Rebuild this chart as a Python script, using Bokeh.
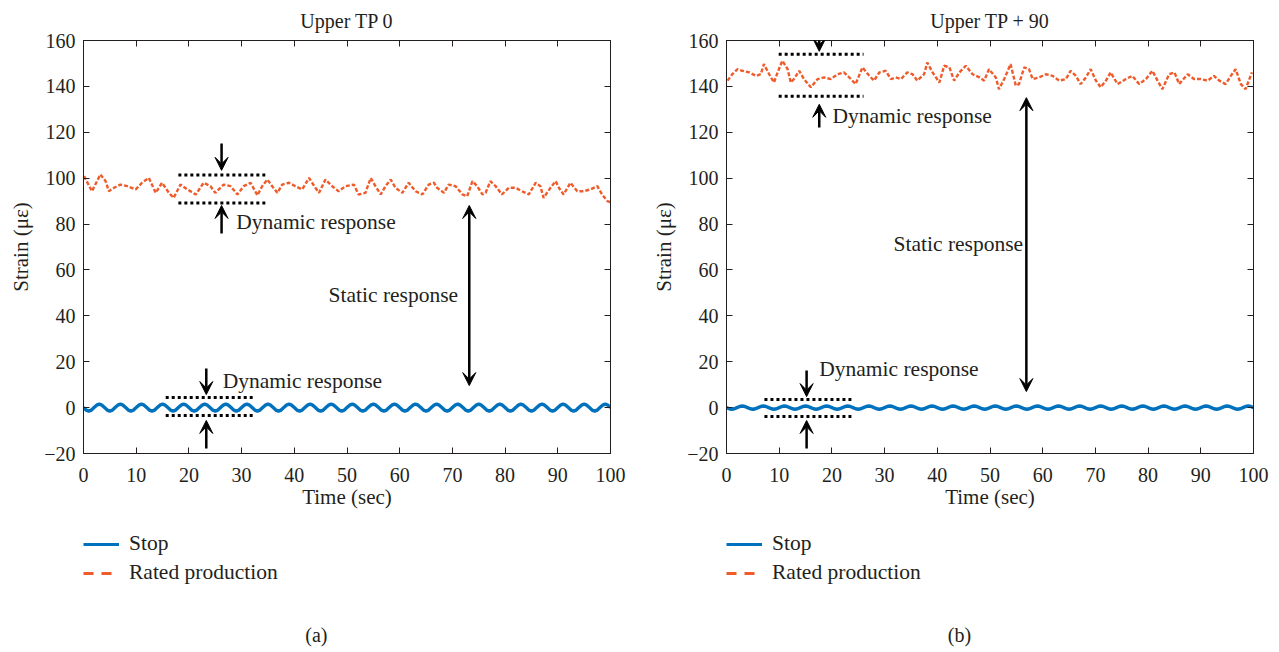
from bokeh.plotting import figure
from bokeh.models import (Arrow, VeeHead, Label, Legend, LegendItem, LinearAxis,
                          Range1d, FixedTicker, CustomJSTickFormatter)
from bokeh.layouts import row, column
from bokeh.embed import file_html
from bokeh.resources import INLINE

FONT = "Liberation Serif"
INK = "#231F20"
BLUE = "#0072BD"
RED = "#EF5B2A"

x_ticks = [0, 10, 20, 30, 40, 50, 60, 70, 80, 90, 100]
y_ticks = [-20, 0, 20, 40, 60, 80, 100, 120, 140, 160]
y_tick_labels = {-20: "\u221220"}

titles = ["Upper TP 0", "Upper TP + 90"]
captions = ["(a)", "(b)"]
series_names = ["Stop", "Rated production"]

# --- Panel (a): Upper TP 0 ---
rated_t_a = [0.1, 1.6, 3.2, 4.2, 4.8, 5.8, 7.0, 8.3, 9.9, 11.1,
             12.4, 13.7, 14.9, 16.2, 17.1, 18.4, 19.7, 21.3, 22.8, 24.1,
             25.0, 26.6, 27.9, 29.2, 30.4, 31.7, 33.0, 33.9, 34.9, 35.8,
             36.8, 37.7, 39.0, 40.2, 41.5, 42.8, 44.0, 44.7, 45.9, 47.2,
             48.4, 49.7, 51.3, 52.2, 53.5, 54.5, 55.4, 56.4, 57.3, 58.3,
             59.2, 60.5, 61.7, 63.0, 64.3, 65.5, 66.5, 67.1, 68.4, 69.3,
             70.6, 71.9, 72.8, 73.8, 74.7, 75.7, 76.3, 77.2, 78.2, 79.4,
             80.7, 82.0, 83.2, 84.5, 85.8, 86.7, 87.3, 88.6, 89.6, 90.2,
             91.1, 92.4, 93.7, 94.9, 96.2, 97.5, 98.4, 99.4, 100.0]
rated_v_a = [100.9, 94.3, 101.6, 98.7, 94.3, 95.8, 97.2, 96.5, 95.1, 98.0,
             100.1, 93.6, 98.0, 93.6, 91.4, 97.2, 95.1, 92.9, 98.0, 96.5,
             93.6, 97.2, 96.5, 92.9, 96.5, 98.0, 92.5, 96.5, 99.4, 96.5,
             93.6, 97.2, 98.0, 96.5, 95.1, 100.1, 95.8, 93.6, 99.4, 96.5,
             94.3, 96.5, 97.2, 92.9, 93.6, 100.1, 96.5, 92.9, 96.5, 99.4,
             95.8, 93.6, 98.0, 94.3, 92.9, 97.2, 98.0, 95.8, 93.6, 97.2,
             96.5, 92.9, 92.1, 98.7, 96.5, 92.9, 93.6, 98.7, 96.5, 92.9,
             95.8, 95.8, 94.3, 92.9, 98.0, 96.5, 91.4, 95.8, 98.7, 95.8,
             92.9, 98.0, 94.3, 94.3, 95.1, 96.5, 92.9, 90.0, 89.5]

# sampling grid of the "Stop" records (every 0.5 s)
stop_t = [i / 2 for i in range(201)]
stop_v_a = [
    0, -1.06, -1.5, -1.06, 0, 1.06, 1.5, 1.06,
    0, -1.06, -1.5, -1.06, 0, 1.06, 1.5, 1.06,
    0, -1.06, -1.5, -1.06, 0, 1.06, 1.5, 1.06,
    0, -1.06, -1.5, -1.06, 0, 1.06, 1.5, 1.06,
    0, -1.06, -1.5, -1.06, 0, 1.06, 1.5, 1.06,
    0, -1.06, -1.5, -1.06, 0, 1.06, 1.5, 1.06,
    0, -1.06, -1.5, -1.06, 0, 1.06, 1.5, 1.06,
    0, -1.06, -1.5, -1.06, 0, 1.06, 1.5, 1.06,
    0, -1.06, -1.5, -1.06, 0, 1.06, 1.5, 1.06,
    0, -1.06, -1.5, -1.06, 0, 1.06, 1.5, 1.06,
    0, -1.06, -1.5, -1.06, 0, 1.06, 1.5, 1.06,
    0, -1.06, -1.5, -1.06, 0, 1.06, 1.5, 1.06,
    0, -1.06, -1.5, -1.06, 0, 1.06, 1.5, 1.06,
    0, -1.06, -1.5, -1.06, 0, 1.06, 1.5, 1.06,
    0, -1.06, -1.5, -1.06, 0, 1.06, 1.5, 1.06,
    0, -1.06, -1.5, -1.06, 0, 1.06, 1.5, 1.06,
    0, -1.06, -1.5, -1.06, 0, 1.06, 1.5, 1.06,
    0, -1.06, -1.5, -1.06, 0, 1.06, 1.5, 1.06,
    0, -1.06, -1.5, -1.06, 0, 1.06, 1.5, 1.06,
    0, -1.06, -1.5, -1.06, 0, 1.06, 1.5, 1.06,
    0, -1.06, -1.5, -1.06, 0, 1.06, 1.5, 1.06,
    0, -1.06, -1.5, -1.06, 0, 1.06, 1.5, 1.06,
    0, -1.06, -1.5, -1.06, 0, 1.06, 1.5, 1.06,
    0, -1.06, -1.5, -1.06, 0, 1.06, 1.5, 1.06,
    0, -1.06, -1.5, -1.06, 0, 1.06, 1.5, 1.06,
    0]

# --- Panel (b): Upper TP + 90 ---
rated_t_b = [0.2, 1.1, 2.1, 3.0, 4.3, 5.6, 6.5, 7.1, 8.1, 9.0,
             9.7, 10.6, 11.6, 12.2, 12.8, 13.8, 14.7, 16.0, 17.3, 18.5,
             19.8, 21.1, 22.3, 23.6, 24.5, 25.8, 27.1, 28.0, 29.0, 30.2,
             31.2, 32.1, 33.1, 34.3, 35.3, 36.2, 37.5, 38.1, 39.1, 40.4,
             41.3, 42.3, 43.2, 44.2, 45.4, 46.7, 48.0, 48.9, 49.8, 51.1,
             51.7, 52.7, 53.9, 54.9, 55.5, 56.5, 57.4, 58.1, 59.3, 60.6,
             61.9, 63.1, 64.4, 65.3, 66.3, 67.2, 68.2, 69.1, 70.1, 71.0,
             72.0, 72.9, 74.2, 75.8, 77.0, 78.3, 79.6, 80.8, 81.8, 82.7,
             84.0, 85.0, 85.9, 87.5, 88.7, 90.0, 91.3, 92.5, 93.5, 94.7,
             95.7, 96.6, 97.6, 98.5, 99.7]
rated_v_b = [142.5, 145.3, 147.5, 146.8, 146.1, 144.6, 145.3, 149.7, 145.3, 141.7,
             146.1, 151.2, 147.5, 141.7, 143.2, 146.8, 143.2, 139.6, 143.2, 143.9,
             143.2, 145.3, 146.1, 143.2, 141.0, 148.3, 144.6, 142.5, 146.1, 146.8,
             143.2, 143.9, 143.2, 146.1, 145.3, 142.5, 145.3, 150.4, 146.1, 141.7,
             149.0, 148.3, 142.5, 146.1, 149.0, 145.3, 143.9, 142.5, 147.5, 143.9,
             138.8, 143.2, 149.7, 140.3, 141.0, 148.3, 147.5, 143.2, 143.9, 145.3,
             144.6, 142.5, 143.2, 146.8, 144.6, 141.0, 143.9, 147.5, 142.5, 139.6,
             142.5, 146.1, 141.0, 143.2, 144.6, 141.0, 143.2, 146.8, 142.5, 138.8,
             145.3, 146.1, 141.0, 145.3, 143.2, 143.2, 142.5, 144.6, 142.5, 141.0,
             144.6, 147.5, 141.0, 138.8, 146.1]

stop_v_b = [
    0, -0.5, -0.7, -0.5, 0, 0.5, 0.7, 0.5,
    0, -0.5, -0.7, -0.5, 0, 0.5, 0.7, 0.5,
    0, -0.5, -0.7, -0.5, 0, 0.5, 0.7, 0.5,
    0, -0.5, -0.7, -0.5, 0, 0.5, 0.7, 0.5,
    0, -0.5, -0.7, -0.5, 0, 0.5, 0.7, 0.5,
    0, -0.5, -0.7, -0.5, 0, 0.5, 0.7, 0.5,
    0, -0.5, -0.7, -0.5, 0, 0.5, 0.7, 0.5,
    0, -0.5, -0.7, -0.5, 0, 0.5, 0.7, 0.5,
    0, -0.5, -0.7, -0.5, 0, 0.5, 0.7, 0.5,
    0, -0.5, -0.7, -0.5, 0, 0.5, 0.7, 0.5,
    0, -0.5, -0.7, -0.5, 0, 0.5, 0.7, 0.5,
    0, -0.5, -0.7, -0.5, 0, 0.5, 0.7, 0.5,
    0, -0.5, -0.7, -0.5, 0, 0.5, 0.7, 0.5,
    0, -0.5, -0.7, -0.5, 0, 0.5, 0.7, 0.5,
    0, -0.5, -0.7, -0.5, 0, 0.5, 0.7, 0.5,
    0, -0.5, -0.7, -0.5, 0, 0.5, 0.7, 0.5,
    0, -0.5, -0.7, -0.5, 0, 0.5, 0.7, 0.5,
    0, -0.5, -0.7, -0.5, 0, 0.5, 0.7, 0.5,
    0, -0.5, -0.7, -0.5, 0, 0.5, 0.7, 0.5,
    0, -0.5, -0.7, -0.5, 0, 0.5, 0.7, 0.5,
    0, -0.5, -0.7, -0.5, 0, 0.5, 0.7, 0.5,
    0, -0.5, -0.7, -0.5, 0, 0.5, 0.7, 0.5,
    0, -0.5, -0.7, -0.5, 0, 0.5, 0.7, 0.5,
    0, -0.5, -0.7, -0.5, 0, 0.5, 0.7, 0.5,
    0, -0.5, -0.7, -0.5, 0, 0.5, 0.7, 0.5,
    0]

# annotation geometry (data units) per panel
annot_a = dict(
    top_dots=(18.0, 34.5, 101.4, 89.2), top_arrow_x=26.2,
    top_down=(115.1, 103.4), top_up=(75.9, 88.1), top_text=(29.0, 80.7),
    bot_dots=(15.6, 32.1, 4.4, -3.4), bot_arrow_x=23.3,
    bot_down=(17.0, 5.7), bot_up=(-17.8, -5.6), bot_text=(26.4, 11.8),
    static_x=73.2, static_span=(88.1, 9.6), static_text=(46.5, 48.9),
)
annot_b = dict(
    top_dots=(9.9, 26.0, 154.0, 135.7), top_arrow_x=17.6,
    top_down=(167.9, 155.3), top_up=(122.1, 132.2), top_text=(20.1, 126.9),
    bot_dots=(7.2, 23.7, 3.5, -3.9), bot_arrow_x=15.2,
    bot_down=(16.2, 4.8), bot_up=(-17.8, -5.6), bot_text=(17.6, 17.0),
    static_x=56.9, static_span=(135.1, 7.0), static_text=(31.7, 71.5),
)

MAIN_H = 520
LEG_H = 652 - MAIN_H
LEG_Y0 = 1000  # legend strip y-range starts far above data so no data shows


def style_axis(ax, show_labels=True):
    ax.major_tick_in = 6
    ax.major_tick_out = 0
    ax.minor_tick_line_color = None
    ax.axis_line_color = INK
    ax.axis_line_width = 1
    ax.major_tick_line_color = INK
    ax.major_label_text_font = FONT
    ax.major_label_text_font_size = "20px"
    ax.major_label_text_color = INK
    ax.axis_label_text_font = FONT
    ax.axis_label_text_font_size = "21px"
    ax.axis_label_text_font_style = "normal"
    ax.axis_label_text_color = INK
    if not show_labels:
        ax.formatter = CustomJSTickFormatter(code="return ''")
        ax.major_label_text_font_size = "4px"
        ax.major_label_standoff = 0


def make_panel(width, left, right, title, caption, rated_t, rated_v, stop_v, an):
    p = figure(width=width, height=MAIN_H, output_backend="svg", toolbar_location=None,
               x_range=Range1d(0, 100), y_range=Range1d(-20, 160),
               min_border_left=left, min_border_right=right,
               min_border_top=40, min_border_bottom=MAIN_H - 453,
               x_axis_label="Time (sec)", y_axis_label="Strain (\u03bc\u03b5)",
               title=title)
    p.title.align = "center"
    p.title.vertical_align = "top"
    p.title.text_font = FONT
    p.title.text_font_size = "20px"
    p.title.text_font_style = "normal"
    p.title.text_color = INK
    p.title.standoff = 14
    p.xgrid.visible = False
    p.ygrid.visible = False
    p.outline_line_color = INK
    p.background_fill_color = "white"
    p.border_fill_color = "white"

    xa = p.xaxis[0]
    ya = p.yaxis[0]
    xa.ticker = FixedTicker(ticks=x_ticks)
    ya.ticker = FixedTicker(ticks=y_ticks)
    ya.major_label_overrides = y_tick_labels
    style_axis(xa)
    style_axis(ya)
    xa.major_label_standoff = 14
    xa.axis_label_standoff = 0
    ya.major_label_standoff = 8
    ya.axis_label_standoff = 8

    top = LinearAxis(ticker=FixedTicker(ticks=x_ticks))
    rgt = LinearAxis(ticker=FixedTicker(ticks=y_ticks))
    style_axis(top, False)
    style_axis(rgt, False)
    p.add_layout(top, "above")
    p.add_layout(rgt, "right")

    p.line(stop_t, stop_v, line_color=BLUE, line_width=3.4, line_join="round")
    p.line(rated_t, rated_v, line_color=RED, line_width=2.4, line_dash="4 2")

    # dotted bands
    for key in ("top_dots", "bot_dots"):
        x0, x1, ya_, yb_ = an[key]
        p.segment(x0=[x0, x0], y0=[ya_, yb_], x1=[x1, x1], y1=[ya_, yb_],
                  line_color="black", line_width=3, line_dash="3 3", line_cap="butt")

    def arrow(x, y0, y1, both=False):
        head = dict(size=13, line_color="black", fill_color="black", line_width=1)
        a = Arrow(end=VeeHead(**head), start=VeeHead(**head) if both else None,
                  x_start=x, y_start=y0, x_end=x, y_end=y1,
                  line_color="black", line_width=2.5)
        p.add_layout(a)

    arrow(an["top_arrow_x"], *an["top_down"])
    arrow(an["top_arrow_x"], *an["top_up"])
    arrow(an["bot_arrow_x"], *an["bot_down"])
    arrow(an["bot_arrow_x"], *an["bot_up"])
    arrow(an["static_x"], *an["static_span"], both=True)

    for key, txt in (("top_text", "Dynamic response"), ("bot_text", "Dynamic response"),
                     ("static_text", "Static response")):
        tx, ty = an[key]
        p.add_layout(Label(x=tx, y=ty, text=txt, text_font=FONT, text_font_size="21.5px",
                           text_color=INK, text_align="left", text_baseline="middle"))

    # legend + caption strip; its frame is aligned with the main frame by the column
    lg = figure(width=width, height=LEG_H, output_backend="svg", toolbar_location=None,
                x_range=Range1d(0, 100), y_range=Range1d(LEG_Y0, LEG_Y0 + LEG_H),
                x_axis_location=None, y_axis_location=None,
                min_border_top=0, min_border_bottom=0,
                min_border_left=left, min_border_right=right)
    lg.xgrid.visible = False
    lg.ygrid.visible = False
    lg.outline_line_color = None
    l_stop = lg.line(stop_t, stop_v, line_color=BLUE, line_width=3)
    l_rated = lg.line(rated_t, rated_v, line_color=RED, line_width=3, line_dash="10 8")
    legend = Legend(items=[LegendItem(label=series_names[0], renderers=[l_stop]),
                           LegendItem(label=series_names[1], renderers=[l_rated])],
                    location=(0, 652 - 585), orientation="vertical",
                    label_text_font=FONT, label_text_font_size="21.5px", label_text_color=INK,
                    glyph_width=36, glyph_height=20, label_height=20, label_standoff=10,
                    spacing=4, padding=0, margin=0,
                    border_line_color=None, background_fill_alpha=0)
    lg.add_layout(legend, "center")
    lg.add_layout(Label(x=44.2, y=LEG_Y0 + 652 - 634, text=caption, text_font=FONT,
                        text_font_size="20px", text_color=INK,
                        text_align="center", text_baseline="middle"))
    return column(p, lg, spacing=0)


pa = make_panel(640, 83, 30, titles[0], captions[0], rated_t_a, rated_v_a, stop_v_a, annot_a)
pb = make_panel(639, 86, 26, titles[1], captions[1], rated_t_b, rated_v_b, stop_v_b, annot_b)

layout = row(pa, pb, spacing=0)
open("out.html", "w").write(file_html(layout, INLINE))
